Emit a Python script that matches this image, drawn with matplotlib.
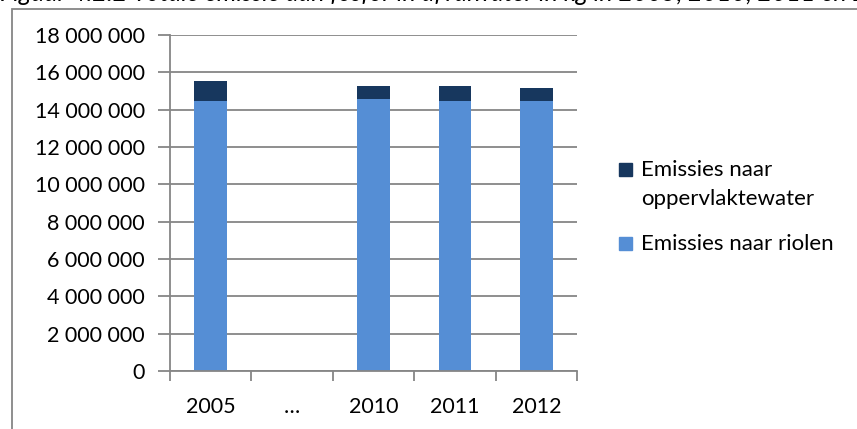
import numpy as np
import matplotlib
matplotlib.use("Agg")
import matplotlib.pyplot as plt
from matplotlib.patches import Rectangle
from matplotlib.ticker import FuncFormatter

plt.rcParams['font.family'] = ['Lato', 'DejaVu Sans']

years = ['2005', '…', '2010', '2011', '2012']
riolen = [14.45e6, np.nan, 14.55e6, 14.45e6, 14.45e6]
oppervlaktewater = [1.1e6, np.nan, 0.7e6, 0.8e6, 0.7e6]
legend_labels = ['Emissies naar\noppervlaktewater', 'Emissies naar riolen']

dark = '#17375E'
light = '#558ED5'
grey = '#868686'

W, H = 857, 429
fig = plt.figure(figsize=(W / 100, H / 100), dpi=100)

def fx(px):
    return px / W

def fy(py):
    return 1 - py / H

# outer chart frame (only left and top visible in the crop)
fig.add_artist(Rectangle((fx(12), -0.1), 2.0, fy(9) + 0.1, transform=fig.transFigure,
                         fill=False, edgecolor=grey, lw=1.3))

# caption above the chart, clipped by the top edge as in the screenshot
fig.text(0.0, fy(1), 'Figuur 4.2.2 Totale emissie aan fosfor in afvalwater in kg in 2005, 2010, 2011 en 2012',
         fontsize=18, style='italic', va='baseline', ha='left')

ax = fig.add_axes([fx(170), fy(371), fx(577) - fx(170), fy(35) - fy(371)])
x = np.arange(len(years))
ax.bar(x, riolen, width=0.4, color=light, zorder=3)
ax.bar(x, oppervlaktewater, width=0.4, bottom=riolen, color=dark, zorder=3)

ax.set_xlim(-0.5, len(years) - 0.5)
ax.set_ylim(0, 18e6)
ax.set_yticks(np.arange(0, 18e6 + 1, 2e6))
ax.yaxis.set_major_formatter(FuncFormatter(lambda v, p: f'{int(v):,}'.replace(',', ' ')))
ax.set_xticks(x)
ax.set_xticklabels(years)
ax.set_xticks(np.arange(-0.5, len(years)), minor=True)
ax.tick_params(axis='x', which='major', length=0, pad=19, labelsize=15.5)
ax.tick_params(axis='x', which='minor', length=7, color=grey, width=1.3, direction='out')
ax.tick_params(axis='y', length=9, color=grey, width=1.3, pad=9, labelsize=15.5)

ax.grid(axis='y', color=grey, lw=1.3, zorder=0)
for s in ['top', 'right']:
    ax.spines[s].set_visible(False)
for s in ['left', 'bottom']:
    ax.spines[s].set_color(grey)
    ax.spines[s].set_linewidth(1.3)
ax.spines['bottom'].set_zorder(4)

# legend, drawn by hand so the marker sits on the first text line
for color, label, top in zip([dark, light], legend_labels, [163, 237]):
    fig.add_artist(Rectangle((fx(619), fy(top + 13)), fx(13), fy(top) - fy(top + 13),
                             transform=fig.transFigure, color=color))
    fig.text(fx(641), fy(top + 7), label.split('\n')[0], fontsize=16, va='center', ha='left')
    if '\n' in label:
        fig.text(fx(641), fy(top + 36), label.split('\n')[1], fontsize=16, va='center', ha='left')

fig.savefig('out.png', dpi=100)
